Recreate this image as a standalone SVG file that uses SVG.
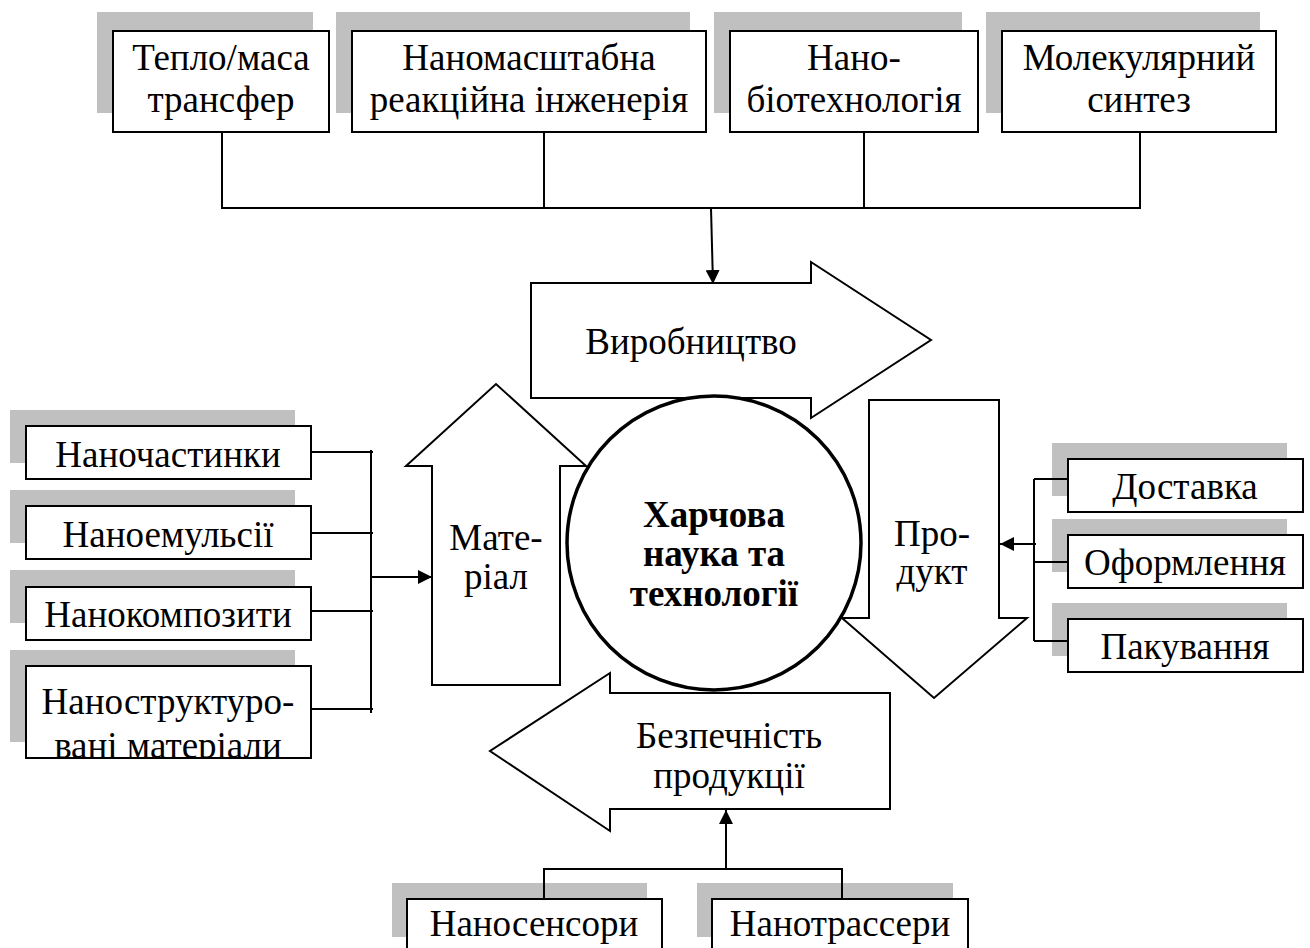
<svg xmlns="http://www.w3.org/2000/svg" width="1310" height="948" viewBox="0 0 1310 948">
<style>
.sh{fill:#c0c0c0;stroke:none}
.bx{fill:#fff;stroke:#000;stroke-width:2}
.t{font-family:"Liberation Serif","Times New Roman",serif;font-size:37px;fill:#000;text-anchor:middle}
.tb{font-family:"Liberation Serif","Times New Roman",serif;font-size:37px;font-weight:bold;fill:#000;text-anchor:middle}
.ln{fill:none;stroke:#000;stroke-width:2}
.ar{fill:#fff;stroke:#000;stroke-width:2;stroke-linejoin:miter}
</style>
<defs>
<marker id="ah" viewBox="0 0 10 10" refX="10" refY="5" markerWidth="7" markerHeight="7" orient="auto" markerUnits="strokeWidth">
<path d="M0,0 L10,5 L0,10 z" fill="#000"/>
</marker>
<clipPath id="c4"><rect x="27" y="667" width="283" height="90"/></clipPath>
</defs>
<rect width="1310" height="948" fill="#fff"/>

<!-- top boxes -->
<g id="n_teplo">
<rect class="sh" x="97" y="12" width="216" height="101"/>
<rect class="bx" x="113" y="31" width="216" height="101"/>
<text class="t" x="221" y="70">Тепло/маса</text>
<text class="t" x="221" y="112">трансфер</text>
</g>
<g id="n_reakc">
<rect class="sh" x="336" y="12" width="354" height="101"/>
<rect class="bx" x="352" y="31" width="354" height="101"/>
<text class="t" x="529" y="70">Наномасштабна</text>
<text class="t" x="529" y="112">реакційна інженерія</text>
</g>
<g id="n_bio">
<rect class="sh" x="714" y="12" width="248" height="101"/>
<rect class="bx" x="730" y="31" width="248" height="101"/>
<text class="t" x="854" y="70">Нано-</text>
<text class="t" x="854" y="112">біотехнологія</text>
</g>
<g id="n_mol">
<rect class="sh" x="986" y="12" width="274" height="101"/>
<rect class="bx" x="1002" y="31" width="274" height="101"/>
<text class="t" x="1139" y="70">Молекулярний</text>
<text class="t" x="1139" y="112">синтез</text>
</g>

<!-- central arrows -->
<g id="n_vyrob">
<polygon class="ar" points="531,283 811,283 811,262 931,340 811,418 811,398 531,398"/>
<text class="t" x="691" y="354">Виробництво</text>
</g>
<g id="n_mater">
<polygon class="ar" points="432,685 432,466 406,466 496,384 586,466 560,466 560,685"/>
<text class="t" x="496" y="550">Мате-</text>
<text class="t" x="496" y="589">ріал</text>
</g>
<g id="n_prod">
<polygon class="ar" points="869,400 999,400 999,618 1027,618 934,698 842,618 869,618"/>
<text class="t" x="932" y="546">Про-</text>
<text class="t" x="932" y="584">дукт</text>
</g>
<g id="n_bezp">
<polygon class="ar" points="890,693 890,809 610,809 610,831 490,751 610,673 610,693"/>
<text class="t" x="729" y="748">Безпечність</text>
<text class="t" x="729" y="788">продукції</text>
</g>
<g id="n_center">
<circle cx="714" cy="543" r="147" fill="#fff" stroke="#000" stroke-width="3.5"/>
<text class="tb" x="714" y="527">Харчова</text>
<text class="tb" x="714" y="566">наука та</text>
<text class="tb" x="714" y="606">технології</text>
</g>

<!-- left boxes -->
<g id="n_chast">
<rect class="sh" x="10" y="410" width="285" height="53"/>
<rect class="bx" x="26" y="426" width="285" height="53"/>
<text class="t" x="168" y="467">Наночастинки</text>
</g>
<g id="n_emul">
<rect class="sh" x="10" y="490" width="285" height="53"/>
<rect class="bx" x="26" y="506" width="285" height="53"/>
<text class="t" x="168" y="547">Наноемульсії</text>
</g>
<g id="n_kompoz">
<rect class="sh" x="10" y="570" width="285" height="53"/>
<rect class="bx" x="26" y="587" width="285" height="53"/>
<text class="t" x="168" y="627">Нанокомпозити</text>
</g>
<g id="n_strukt">
<rect class="sh" x="10" y="650" width="285" height="92"/>
<rect class="bx" x="26" y="666" width="285" height="92"/>
<g clip-path="url(#c4)">
<text class="t" x="168" y="714">Наноструктуро-</text>
<text class="t" x="168" y="758">вані матеріали</text>
</g>
<rect x="26" y="666" width="285" height="92" fill="none" stroke="#000" stroke-width="2"/>
</g>

<!-- right boxes -->
<g id="n_dost">
<rect class="sh" x="1052" y="443" width="235" height="53"/>
<rect class="bx" x="1068" y="459" width="235" height="53"/>
<text class="t" x="1185" y="499">Доставка</text>
</g>
<g id="n_oform">
<rect class="sh" x="1052" y="519" width="235" height="53"/>
<rect class="bx" x="1068" y="535" width="235" height="53"/>
<text class="t" x="1185" y="575">Оформлення</text>
</g>
<g id="n_pak">
<rect class="sh" x="1052" y="603" width="235" height="53"/>
<rect class="bx" x="1068" y="619" width="235" height="53"/>
<text class="t" x="1185" y="659">Пакування</text>
</g>

<!-- bottom boxes -->
<g id="n_sens">
<rect class="sh" x="392" y="883" width="255" height="54"/>
<rect class="bx" x="407" y="899" width="255" height="54"/>
<text class="t" x="534" y="936">Наносенсори</text>
</g>
<g id="n_trass">
<rect class="sh" x="697" y="883" width="256" height="54"/>
<rect class="bx" x="712" y="899" width="256" height="54"/>
<text class="t" x="840" y="936">Нанотрассери</text>
</g>

<!-- connectors -->
<g id="connectors">
<path class="ln" d="M222,132 V208 M544,132 V208 M864,132 V208 M1140,132 V208 M221,208 H1141"/>
<line class="ln" x1="711" y1="208" x2="713" y2="284" marker-end="url(#ah)"/>
<path class="ln" d="M311,452 H373 M311,533 H373 M311,611 H373 M311,709 H373 M371,450 V713"/>
<line class="ln" x1="371" y1="577" x2="432" y2="577" marker-end="url(#ah)"/>
<path class="ln" d="M1034,479 V641 M1034,479 H1068 M1034,562 H1068 M1034,641 H1068"/>
<line class="ln" x1="1036" y1="544" x2="1000" y2="544" marker-end="url(#ah)"/>
<path class="ln" d="M544,899 V869 H842 V899"/>
<line class="ln" x1="726" y1="869" x2="726" y2="810" marker-end="url(#ah)"/>
</g>
</svg>
